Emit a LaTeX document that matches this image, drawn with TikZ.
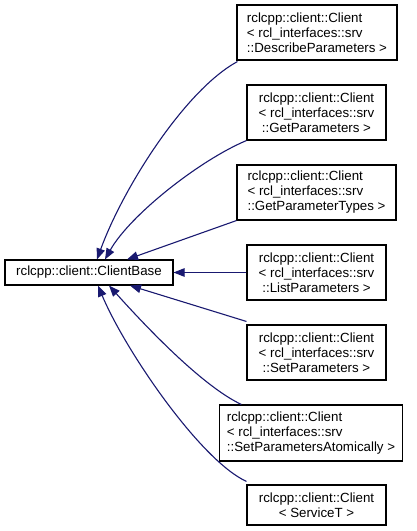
\documentclass[tikz,border=0pt]{standalone}
\usepackage{fontspec}
\setmainfont{Liberation Sans}
\usetikzlibrary{arrows.meta}
\definecolor{navy}{HTML}{191970}
\begin{document}
\begin{tikzpicture}[x=1pt, y=-1pt,
    cls/.style={draw, line width=1.1pt, fill=white, inner xsep=7pt, inner ysep=0pt,
        font=\fontsize{13.3}{15}\selectfont},
    inh/.style={-{Triangle[length=11pt,width=8.5pt]}, line width=1.1pt, navy}]
    \useasboundingbox (0,0) rectangle (417,531);

    \node[cls, minimum width=168pt, minimum height=25pt] (base) at (89,272.5) {rclcpp::client::ClientBase};

    \node[cls, align=left, minimum width=160pt, minimum height=55pt] (describe) at (317,32.5)
        {rclcpp::client::Client\\< rcl\_interfaces::srv\\::DescribeParameters >};
    \node[cls, align=center, minimum width=139pt, minimum height=55pt] (get) at (316.5,112.5)
        {rclcpp::client::Client\\< rcl\_interfaces::srv\\::GetParameters >};
    \node[cls, align=left, minimum width=159pt, minimum height=55pt] (types) at (316.5,192.5)
        {rclcpp::client::Client\\< rcl\_interfaces::srv\\::GetParameterTypes >};
    \node[cls, align=center, minimum width=139pt, minimum height=55pt] (list) at (316.5,272.5)
        {rclcpp::client::Client\\< rcl\_interfaces::srv\\::ListParameters >};
    \node[cls, align=center, minimum width=139pt, minimum height=55pt] (set) at (316.5,352.5)
        {rclcpp::client::Client\\< rcl\_interfaces::srv\\::SetParameters >};
    \node[cls, align=left, minimum width=180pt, minimum height=56pt] (atomic) at (311,433)
        {rclcpp::client::Client\\< rcl\_interfaces::srv\\::SetParametersAtomically >};
    \node[cls, align=center, minimum width=139pt, minimum height=40pt] (service) at (316.5,505)
        {rclcpp::client::Client\\< ServiceT >};

    \draw[inh] ([shift={(1pt,-1pt)}]describe.south west) .. controls (185,90) and (123,188) .. ([xshift=8pt]base.north);
    \draw[inh] (get.south west) .. controls (200,160) and (130,215) .. ([xshift=16pt]base.north);
    \draw[inh] (types.south west) -- ([xshift=38pt]base.north);
    \draw[inh] (list) -- (base);
    \draw[inh] ([yshift=3pt]set.north west) -- ([xshift=41pt]base.south);
    \draw[inh] ([xshift=22pt]atomic.north west) .. controls (200,385) and (140,320) .. ([xshift=20pt]base.south);
    \draw[inh] ([yshift=3pt]service.north west) .. controls (200,460) and (125,350) .. ([xshift=9pt]base.south);
\end{tikzpicture}
\end{document}
